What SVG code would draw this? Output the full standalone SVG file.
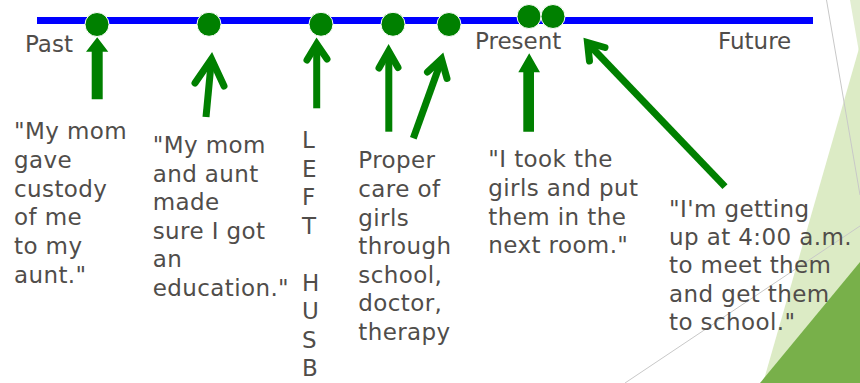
<svg xmlns="http://www.w3.org/2000/svg" width="860" height="383" viewBox="0 0 860 383">
<style>
.t{font-family:"DejaVu Sans",Verdana,sans-serif;font-size:23px;fill:#504d4a;letter-spacing:0.4px}
.lbl{font-family:"DejaVu Sans",Verdana,sans-serif;font-size:23px;fill:#504d4a}
.dot{fill:#008000;stroke:#ffffff;stroke-width:1}
.ln{fill:none;stroke:#008000;stroke-width:7}
.hd{fill:none;stroke:#008000;stroke-width:7;stroke-linecap:round;stroke-linejoin:miter}
.blk{fill:#008000}
</style>
<rect width="860" height="383" fill="#ffffff"/>
<g id="background">
<polygon points="850,0 860,0 860,58" fill="#e2eed1"/>
<polygon points="860,45 860,383 763,383" fill="#dcebc5"/>
<polygon points="760,383 860,262 860,383" fill="#78b04a"/>
<line x1="826.5" y1="0" x2="860" y2="195" stroke="#c8c8c8" stroke-width="1"/>
<line x1="625" y1="383" x2="860" y2="226" stroke="#c8c8c8" stroke-width="1"/>
</g>
<g id="timeline">
<line x1="37" y1="20.5" x2="813" y2="20.5" stroke="#0000ff" stroke-width="7"/>
<text class="lbl" x="25" y="52">Past</text>
<text class="lbl" x="475" y="49">Present</text>
<text class="lbl" x="718" y="49">Future</text>
</g>
<g id="dots">
<circle class="dot" cx="97" cy="24.5" r="12"/>
<circle class="dot" cx="209" cy="24.3" r="12"/>
<circle class="dot" cx="321" cy="24.3" r="12"/>
<circle class="dot" cx="393" cy="24.3" r="12"/>
<circle class="dot" cx="449" cy="24.5" r="12"/>
<circle class="dot" cx="529" cy="16.5" r="12"/>
<circle class="dot" cx="553" cy="16.5" r="12"/>
</g>
<g id="connectors">
<polygon class="blk" points="91.7,99.3 91.7,51.7 86,51.7 97.2,37.3 108.3,51.7 102.7,51.7 102.7,99.3"/>
<line class="ln" x1="206" y1="117" x2="211.5" y2="59"/>
<polyline class="hd" points="195,83 211.5,59 224,86"/>
<line class="ln" x1="316.7" y1="108.3" x2="316.7" y2="45"/>
<polyline class="hd" points="307,60 316.7,44 327,59"/>
<line class="ln" x1="388.8" y1="131.7" x2="388.8" y2="52"/>
<polyline class="hd" points="379,68 388.6,51 398,67.5"/>
<line class="ln" x1="413.3" y1="138.3" x2="441.5" y2="60"/>
<polyline class="hd" points="427.5,72 441.5,59 447,78.5"/>
<polygon class="blk" points="523.3,131.7 523.3,72.3 518.3,72.3 529.2,53.3 540,72.3 534,72.3 534,131.7"/>
<line class="ln" x1="725" y1="186.7" x2="588" y2="43.5"/>
<polyline class="hd" points="589.5,61 587.5,42.6 605,47.5"/>
</g>
<g id="note1">
<text class="t" x="14" y="139.3">"My mom</text>
<text class="t" x="14" y="168">gave</text>
<text class="t" x="14" y="196.7">custody</text>
<text class="t" x="14" y="225.4">of me</text>
<text class="t" x="14" y="254.1">to my</text>
<text class="t" x="14" y="282.8">aunt."</text>
</g>
<g id="note2">
<text class="t" x="152.7" y="153.3">"My mom</text>
<text class="t" x="152.7" y="181.8">and aunt</text>
<text class="t" x="152.7" y="210.3">made</text>
<text class="t" x="152.7" y="238.8">sure I got</text>
<text class="t" x="152.7" y="267.3">an</text>
<text class="t" x="152.7" y="295.8">education."</text>
</g>
<g id="note3">
<text class="t" x="302" y="148.3">L</text>
<text class="t" x="302" y="176.8">E</text>
<text class="t" x="302" y="205.3">F</text>
<text class="t" x="302" y="233.8">T</text>
<text class="t" x="302" y="290.8">H</text>
<text class="t" x="302" y="319.3">U</text>
<text class="t" x="302" y="347.8">S</text>
<text class="t" x="302" y="376.3">B</text>
</g>
<g id="note4">
<text class="t" x="358.3" y="168.3">Proper</text>
<text class="t" x="358.3" y="196.9">care of</text>
<text class="t" x="358.3" y="225.5">girls</text>
<text class="t" x="358.3" y="254.1">through</text>
<text class="t" x="358.3" y="282.7">school,</text>
<text class="t" x="358.3" y="311.3">doctor,</text>
<text class="t" x="358.3" y="339.9">therapy</text>
</g>
<g id="note5">
<text class="t" x="488.3" y="167.3">"I took the</text>
<text class="t" x="488.3" y="195.9">girls and put</text>
<text class="t" x="488.3" y="224.5">them in the</text>
<text class="t" x="488.3" y="253.1">next room."</text>
</g>
<g id="note6">
<text class="t" x="669" y="216.7">"I'm getting</text>
<text class="t" x="669" y="245">up at 4:00 a.m.</text>
<text class="t" x="669" y="273.3">to meet them</text>
<text class="t" x="669" y="301.6">and get them</text>
<text class="t" x="669" y="329.9">to school."</text>
</g>
</svg>
